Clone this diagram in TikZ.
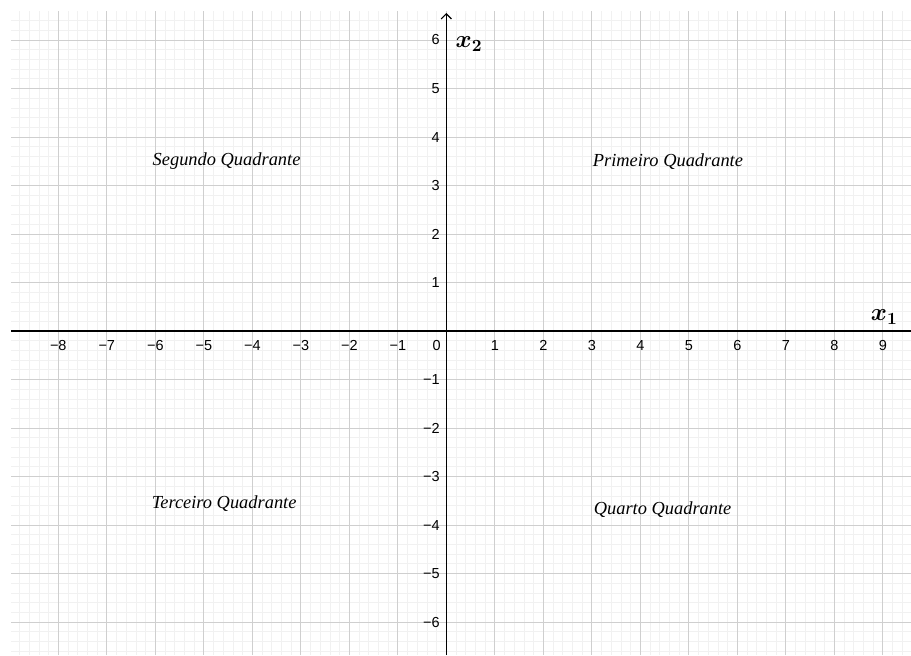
\documentclass[tikz,border=0pt]{standalone}
\usepackage{fontspec}
\usepackage{bm}
\setmainfont{Liberation Serif}
\newfontfamily\numfont{Liberation Sans}
\usetikzlibrary{arrows.meta}
\definecolor{minorgrid}{HTML}{F1F1F1}
\definecolor{majorgrid}{HTML}{CFCFCF}
\tikzset{
  numlabel/.style={font=\numfont\fontsize{8.5}{10}\selectfont, inner sep=0pt},
  quadlabel/.style={font=\itshape\fontsize{10.8}{13}\selectfont, inner sep=0pt},
  axislabel/.style={font=\fontsize{14}{16}\selectfont, inner sep=0pt},
  axisline/.style={line width=0.7pt, black},
}
\begin{document}
\begin{tikzpicture}
\useasboundingbox (-9.202,-6.680) rectangle (9.581,6.825);
\fill[white] (-9.202,-6.680) rectangle (9.581,6.825);
% grid
\draw[minorgrid, line width=0.45pt, step=0.2] (-8.975,-6.680) grid (9.581,6.598);
\draw[majorgrid, line width=0.6pt, step=1] (-8.975,-6.680) grid (9.581,6.598);
% axes
\coordinate (xl) at (-8.975,0);
\coordinate (xr) at (9.581,0);
\coordinate (yb) at (0,-6.680);
\coordinate (yt) at (0,6.557);
\draw[axisline] (xl) -- (xr);
\draw[axisline, -{Straight Barb[length=3pt,width=6pt]}] (yb) -- (yt);
% x labels
\foreach \v/\t in {-8/−8,-7/−7,-6/−6,-5/−5,-4/−4,-3/−3,-2/−2,-1/−1,1/1,2/2,3/3,4/4,5/5,6/6,7/7,8/8,9/9}
  \node[numlabel] (xn\v) at (\v,-0.29) {\t};
\node[numlabel] (xn0) at (-0.2,-0.29) {0};
% y labels
\foreach \v/\t in {-6/−6,-5/−5,-4/−4,-3/−3,-2/−2,-1/−1,1/1,2/2,3/3,4/4,5/5,6/6}
  \node[numlabel, anchor=east] (yn\v) at (-0.13,\v) {\t};
% axis names
\node[axislabel] (x1) at (9.03,0.29) {$\bm{x_1}$};
\node[axislabel] (x2) at (0.47,5.92) {$\bm{x_2}$};
% quadrants
\node[quadlabel] (q2) at (-4.53,3.50) {Segundo Quadrante};
\node[quadlabel] (q1) at (4.57,3.50) {Primeiro Quadrante};
\node[quadlabel] (q3) at (-4.58,-3.56) {Terceiro Quadrante};
\node[quadlabel] (q4) at (4.46,-3.68) {Quarto Quadrante};
\end{tikzpicture}
\end{document}
